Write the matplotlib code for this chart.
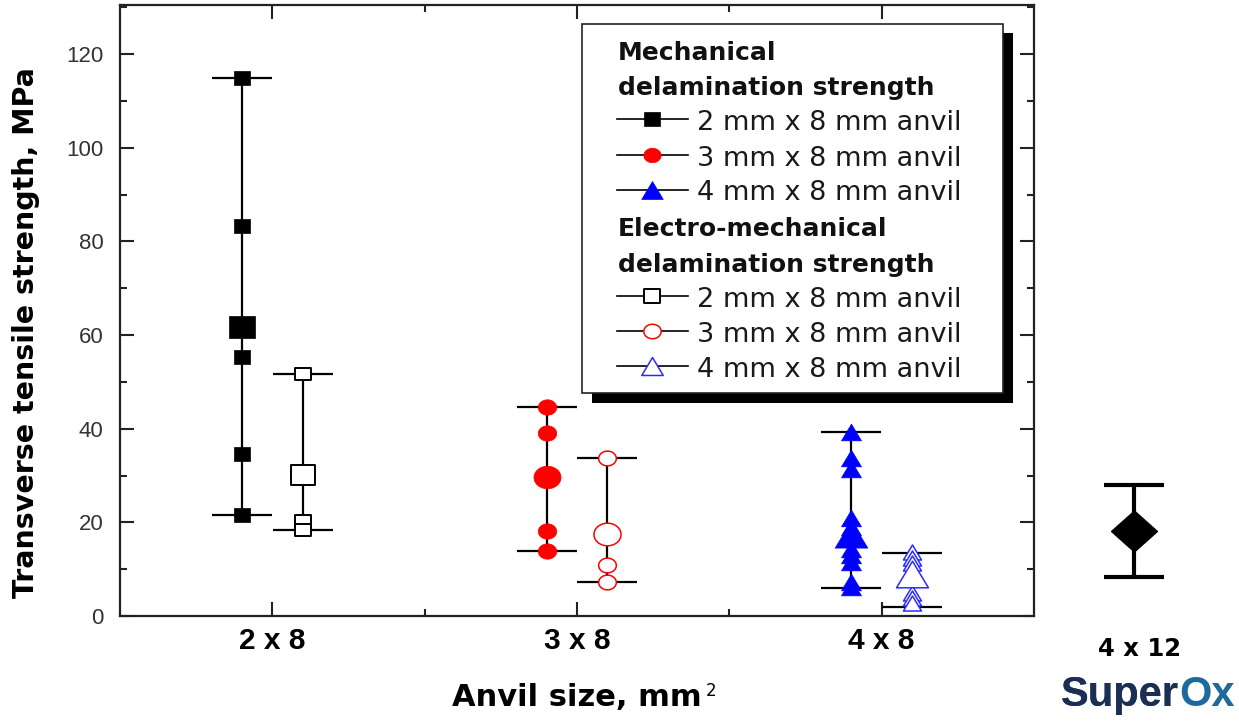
import numpy as np
import matplotlib
matplotlib.use("Agg")
import matplotlib.pyplot as plt
import matplotlib.transforms as mtransforms
from matplotlib.path import Path
from matplotlib.lines import Line2D
from matplotlib.patches import Rectangle

# ---------------- data ----------------
categories = ["2 x 8", "3 x 8", "4 x 8"]
cat_pos = [1, 2, 3]

# Mechanical delamination strength, MPa (individual samples)
mech_2x8 = [115.0, 83.2, 55.4, 34.5, 21.5]
mech_3x8 = [44.6, 39.0, 18.1, 13.9]
mech_4x8 = [39.3, 33.8, 31.5, 21.0, 19.0, 14.3, 13.0, 11.6, 7.2, 6.3]
mech_mean = [61.8, 29.6, 17.6]
mech_low = [21.5, 13.9, 6.0]
mech_high = [115.0, 44.6, 39.3]

# Electro-mechanical delamination strength, MPa
em_2x8 = [51.7, 20.3, 18.3]
em_3x8 = [33.7, 10.9, 7.2]
em_4x8 = [13.7, 12.3, 11.3, 4.9, 3.8, 2.7]
em_mean = [30.1, 17.5, 9.0]
em_low = [18.3, 7.2, 1.9]
em_high = [51.7, 33.7, 13.4]

# 4 mm x 12 mm anvil
wide_label = "4 x 12"
wide_mean = 18.1
wide_low = 8.3
wide_high = 27.9

legend_entries = ["2 mm x 8 mm anvil", "3 mm x 8 mm anvil", "4 mm x 8 mm anvil"]

# ---------------- figure ----------------
W, H = 1239, 727
plt.rcParams["font.family"] = ["Liberation Sans", "DejaVu Sans"]
fig = plt.figure(figsize=(W / 100, H / 100), dpi=100)
fig.patch.set_facecolor("white")

ax_l, ax_r, ax_b, ax_t = 120, 1034, 616, 5
ax = fig.add_axes([ax_l / W, 1 - ax_b / H, (ax_r - ax_l) / W, (ax_b - ax_t) / H])
ax.set_xlim(0.5, 3.5)
ax.set_ylim(0, 130.5)

# pixel coordinates measured from the top-left corner of the figure
pix = mtransforms.Affine2D().scale(1 / W, -1 / H).translate(0, 1) + fig.transFigure

# marker shapes, slightly wider than tall
A = 1.2
m_square = Path([(-A, -1), (A, -1), (A, 1), (-A, 1), (-A, -1)], closed=True)
_t = np.linspace(0, 2 * np.pi, 65)
m_circle = Path(np.column_stack([A * np.cos(_t), np.sin(_t)]), closed=True)
m_tri = Path([(0, 1), (-A, -1), (A, -1), (0, 1)], closed=True)
m_diamond = Path([(0, 1), (1.12, 0), (0, -1), (-1.12, 0), (0, 1)], closed=True)

mech_points = [mech_2x8, mech_3x8, mech_4x8]
em_points = [em_2x8, em_3x8, em_4x8]

# (marker, face, edge, small size, mean size, edge width)
mech_style = [
    (m_square, "black", "black", 11.5, 18.5, 0.5),
    (m_circle, "red", "red", 13.3, 19.5, 0.5),
    (m_tri, "blue", "blue", 14.4, 23.5, 0.5),
]
em_style = [
    (m_square, "white", "black", 11.0, 17.8, 1.4),
    (m_circle, "white", "red", 12.7, 19.5, 1.1),
    (m_tri, "white", "#2b2bff", 13.0, 23.0, 1.1),
]

offset = 0.1
cap = 21.5


def draw_group(x, pts, mean, lo, hi, style):
    mk, fc, ec, ms_small, ms_big, mew = style
    ax.errorbar([x], [mean], yerr=[[mean - lo], [hi - mean]], fmt="none",
                ecolor="black", elinewidth=1.6, capsize=cap, capthick=1.6,
                zorder=2)
    ax.plot([x] * len(pts), pts, ls="none", marker=mk, ms=ms_small,
            mfc=fc, mec=ec, mew=mew, zorder=3)
    ax.plot([x], [mean], ls="none", marker=mk, ms=ms_big,
            mfc=fc, mec=ec, mew=mew, zorder=4)


for i, c in enumerate(cat_pos):
    draw_group(c - offset, mech_points[i], mech_mean[i], mech_low[i],
               mech_high[i], mech_style[i])
    draw_group(c + offset, em_points[i], em_mean[i], em_low[i],
               em_high[i], em_style[i])

# 4 x 12 anvil result, placed to the right of the frame
wide_x = 3.828
eb = ax.errorbar([wide_x], [wide_mean],
                 yerr=[[wide_mean - wide_low], [wide_high - wide_mean]],
                 fmt="none", ecolor="black", elinewidth=3.0, capsize=cap,
                 capthick=3.0, zorder=2)
for art in list(eb.lines[1]) + list(eb.lines[2]):
    art.set_clip_on(False)
ax.plot([wide_x], [wide_mean], ls="none", marker=m_diamond, ms=33,
        mfc="black", mec="black", clip_on=False, zorder=4)

# ---------------- axes styling ----------------
for s in ax.spines.values():
    s.set_linewidth(1.6)
    s.set_color("#222222")

ax.set_yticks(np.arange(0, 121, 20))
ax.set_yticks(np.arange(10, 131, 10), minor=True)
ax.set_xticks(cat_pos)
ax.set_xticks([1.5, 2.5], minor=True)
ax.set_xticklabels(categories)

ax.tick_params(which="both", direction="in", top=True, right=True,
               width=1.5, color="#222222")
ax.tick_params(which="major", length=10)
ax.tick_params(which="minor", length=5)
ax.tick_params(axis="y", which="major", labelsize=16, labelcolor="#333333", pad=12)
ax.tick_params(axis="x", which="major", labelsize=21.5, pad=8)
for lbl in ax.get_xticklabels():
    lbl.set_fontweight("bold")

fig.text(26, 333, "Transverse tensile strength, MPa", transform=pix,
         rotation=90, ha="center", va="center", fontsize=20.5,
         fontweight="bold", family="DejaVu Sans")
fig.text(452, 706, "Anvil size, mm", transform=pix, ha="left",
         va="baseline", fontsize=22, fontweight="bold", family="DejaVu Sans")
fig.text(706, 696, "2", transform=pix, ha="left", va="baseline",
         fontsize=12, family="DejaVu Sans")

fig.text(1140, 656, wide_label, transform=pix, ha="center", va="baseline",
         fontsize=17.5, fontweight="bold", family="DejaVu Sans")

logo = fig.text(1061, 706, "Super", transform=pix, ha="left",
                va="baseline", fontsize=30, fontweight="bold",
                family="Liberation Sans", color="#1b2f55")
fig.add_artist(logo)
ax.annotate("Ox", xy=(1, 0), xycoords=logo, ha="left", va="bottom",
            fontsize=30, fontweight="bold", family="Liberation Sans",
            color="#1f6a9a", annotation_clip=False)

# ---------------- legend ----------------
box_l, box_t, box_w, box_h = 582, 24, 421, 369
fig.add_artist(Rectangle((box_l + 10, box_t + 9), box_w, box_h + 1,
                         transform=pix, facecolor="black", edgecolor="none",
                         zorder=5))
fig.add_artist(Rectangle((box_l, box_t), box_w, box_h, transform=pix,
                         facecolor="white", edgecolor="#222222", lw=1.2,
                         zorder=6))

head_x, line_x0, line_x1, mark_x, text_x = 618, 617, 688, 652, 697
header_rows = [(60, "Mechanical"), (95, "delamination strength"),
               (236.5, "Electro-mechanical"), (272, "delamination strength")]
for y, s in header_rows:
    fig.text(head_x, y, s, transform=pix, ha="left", va="baseline",
             fontsize=18, fontweight="bold", family="DejaVu Sans",
             color="#111111", zorder=7)

leg_mark = [(m_square, 11.5), (m_circle, 12.5), (m_tri, 15.5)]
entry_rows = [130, 165.5, 200.5, 307, 342, 377]
for k, y in enumerate(entry_rows):
    grp = k // 3
    j = k % 3
    mk, size = leg_mark[j]
    st = mech_style[j] if grp == 0 else em_style[j]
    yl = y - 11
    fig.add_artist(Line2D([line_x0, line_x1], [yl, yl], transform=pix,
                          color="black", lw=1.2, zorder=7))
    fig.add_artist(Line2D([mark_x], [yl], transform=pix, ls="none",
                          marker=mk, ms=size, mfc=st[1], mec=st[2],
                          mew=st[5], zorder=8))
    fig.text(text_x, y, legend_entries[j], transform=pix, ha="left",
             va="baseline", fontsize=19.5, family="DejaVu Sans",
             color="#1a1a1a", zorder=7)

fig.savefig("out.png", dpi=100, facecolor="white")
